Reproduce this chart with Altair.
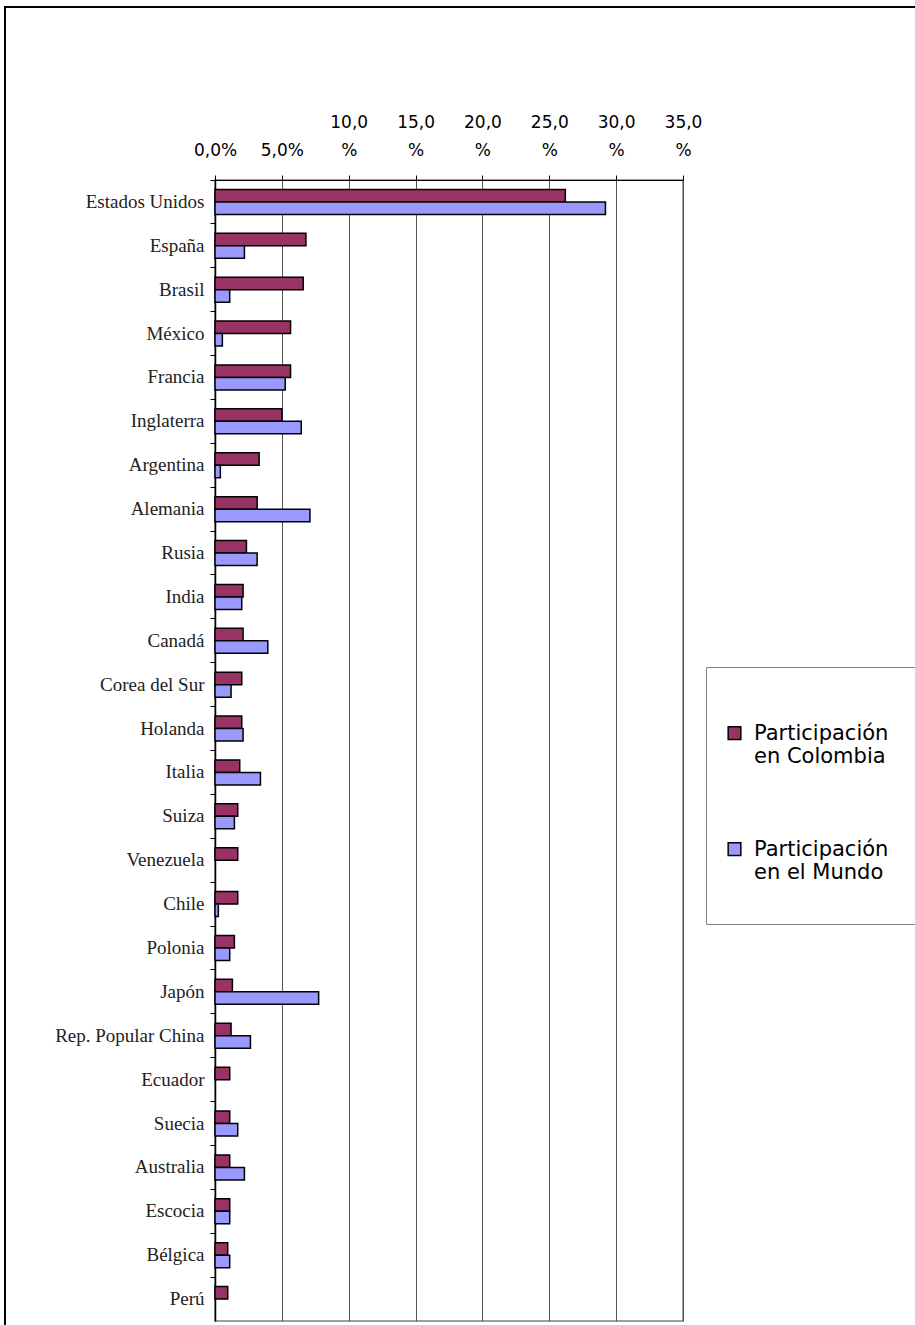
import altair as alt
import pandas as pd

countries = ["Estados Unidos", "España", "Brasil", "México", "Francia", "Inglaterra",
             "Argentina", "Alemania", "Rusia", "India", "Canadá", "Corea del Sur",
             "Holanda", "Italia", "Suiza", "Venezuela", "Chile", "Polonia", "Japón",
             "Rep. Popular China", "Ecuador", "Suecia", "Australia", "Escocia",
             "Bélgica", "Perú"]
colombia = [26.2, 6.8, 6.6, 5.65, 5.65, 5.0, 3.3, 3.15, 2.35, 2.1, 2.1, 2.0, 2.0,
            1.85, 1.7, 1.7, 1.7, 1.45, 1.3, 1.2, 1.1, 1.1, 1.1, 1.1, 0.95, 0.95]
mundo = [29.2, 2.2, 1.1, 0.55, 5.25, 6.45, 0.4, 7.1, 3.15, 2.0, 3.95, 1.2, 2.1,
         3.4, 1.45, 0.0, 0.25, 1.1, 7.75, 2.65, 0.0, 1.7, 2.2, 1.1, 1.1, 0.0]
series = ["Participación en Colombia", "Participación en el Mundo"]
colors = ["#993366", "#9999FF"]
tick_values = [0, 5, 10, 15, 20, 25, 30, 35]

rows = []
for i, c in enumerate(countries):
    rows.append({"pais": c, "serie": series[0], "valor": colombia[i]})
    rows.append({"pais": c, "serie": series[1], "valor": mundo[i]})
df = pd.DataFrame(rows)

lab = "replace(format(datum.value, '.1f'), '.', ',')"
x_label_expr = f"datum.value < 10 ? ['', {lab} + '%'] : [{lab}, '%']"
blank_line = "\u2800" * 10
legend_label_expr = ("[slice(datum.label, 0, 13), slice(datum.label, 14), "
                     f"'{blank_line}']")

bars = alt.Chart(df).transform_filter("datum.valor > 0").mark_bar(
    stroke="black", strokeWidth=1.5
).encode(
    x=alt.X("valor:Q",
            scale=alt.Scale(domain=[0, 35], nice=False, zero=True),
            axis=alt.Axis(orient="top", values=tick_values, labelExpr=x_label_expr,
                          title=None, grid=True, gridColor="#555555", gridWidth=1,
                          domainColor="black", domainWidth=1, tickColor="black",
                          tickSize=5, labelPadding=48, labelFlush=False,
                          labelOverlap=False, labelFont="DejaVu Sans",
                          labelBaseline="alphabetic",
                          labelFontSize=17, labelColor="black", labelLineHeight=28)),
    y=alt.Y("pais:N", sort=countries,
            scale=alt.Scale(paddingInner=0, paddingOuter=0),
            axis=alt.Axis(title=None, bandPosition=0, domainColor="black",
                          domainWidth=1.5, tickColor="black", tickSize=5,
                          labelPadding=6, labelFont="Liberation Serif",
                          labelFontSize=19, labelColor="#222222", labelLimit=400)),
    yOffset=alt.YOffset("serie:N", sort=series,
                        scale=alt.Scale(domain=series, paddingInner=0, paddingOuter=0.755)),
    color=alt.Color("serie:N", sort=series,
                    scale=alt.Scale(domain=series, range=colors),
                    legend=alt.Legend(orient="none", legendX=491, legendY=487,
                                      direction="vertical", title=" ",
                                      titleFontSize=20, titlePadding=24,
                                      padding=18, strokeColor="#808080",
                                      fillColor="white",
                                      labelFont="DejaVu Sans", labelFontSize=21,
                                      labelColor="black",
                                      labelBaseline="alphabetic",
                                      labelExpr=legend_label_expr,
                                      labelLimit=600, labelOffset=9,
                                      symbolType="M-1,-2H1V0H-1Z", symbolSize=160,
                                      symbolStrokeColor="black", symbolStrokeWidth=1.5,
                                      symbolOpacity=1, rowPadding=48)),
)

frame = alt.Chart(alt.Data(values=[{"a": 1}])).mark_rect(
    filled=False, stroke="black", strokeWidth=2
).encode(
    x=alt.value(-210), x2=alt.value(760), y=alt.value(-173), y2=alt.value(1200)
)

chart = alt.layer(frame, bars).properties(
    width=468, height=1141,
    autosize=alt.AutoSizeParams(type="none"),
    padding={"left": 215, "top": 180, "right": 232, "bottom": 4},
    background="white",
).configure_view(stroke="#808080", strokeWidth=1.5)

chart.save("out.html", embed_options={"renderer": "svg", "actions": False})
